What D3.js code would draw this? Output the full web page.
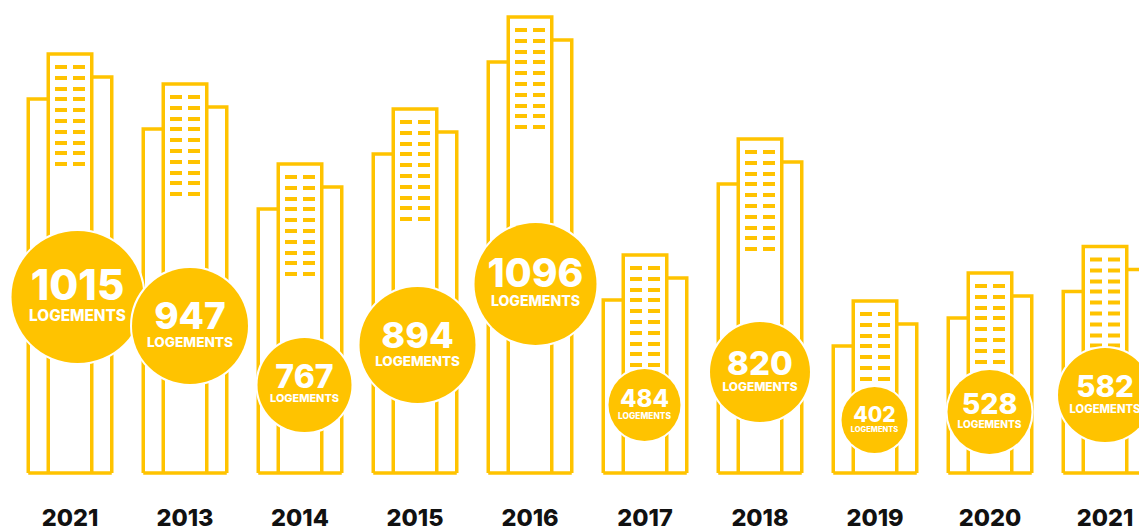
<!DOCTYPE html>
<html><head><meta charset="utf-8">
<script src="https://cdn.jsdelivr.net/npm/d3@7/dist/d3.min.js"></script>
<style>html,body{margin:0;padding:0;background:#fff;overflow:hidden}svg{display:block}</style>
</head><body><svg id="c" width="1139" height="528"></svg>
<script>
const years = ["2021","2013","2014","2015","2016","2017","2018","2019","2020","2021"];
const logements = [1015,947,767,894,1096,484,820,402,528,582];
const towerHeights = [419,389,309,364,456,218,334,172,200,226.5];
const windowRows = [10,10,10,10,10,10,10,7,8,9];
const bubbleRadius = [66,58,47,58,61,36,50,33,42,47];
const bubbleLift = [176,147,88,128,189,68,101,53,61,78];
const bubbleShift = [7.5,5,4.5,2.5,5.5,-0.5,0,-0.5,-0.5,0];
const numberSize = [42,37,32,36,39,24,33,21,28.5,29.5];
const captionSize = [15.3,13.6,10.9,13.4,14.1,8.4,11.9,7.5,10.1,11.2];
const rowOffsets = [0,11,22,32,43,54,65,76,86,97];

const W=1139,H=528,base=473,gold="#FFC300",font="Inter, 'Noto Sans', sans-serif";
const svg=d3.select("#c");
const x=d3.scaleBand().domain(d3.range(years.length)).range([12.5,1162.5]);
const y=d3.scaleLinear().domain([0,500]).range([base,base-500]);
const line=d3.line();
const towerW=43.5, sideW=20, stroke=3.5;
const g=svg.selectAll("g.b").data(d3.range(years.length)).join("g").attr("class","b")
  .attr("transform",i=>`translate(${x(i)+x.bandwidth()/2},0)`);
g.append("path").attr("fill","none").attr("stroke",gold).attr("stroke-width",stroke)
 .attr("d",i=>{
   const t=y(towerHeights[i]);
   const l=t+45, rr=t+23;
   const tw=towerW/2, o=tw+sideW;
   return line([[-o,base],[-o,l],[-tw,l]])+line([[-tw,base],[-tw,t],[tw,t],[tw,base]])+line([[tw,rr],[o,rr],[o,base]])+line([[-o,base],[o,base]]);
 });
g.each(function(i){
  const t=y(towerHeights[i]);
  const rows=rowOffsets.slice(0,windowRows[i]);
  [-15,3].forEach(dx=>{
    d3.select(this).selectAll(null).data(rows).join("rect")
      .attr("x",dx).attr("y",d=>t+11+d).attr("width",12).attr("height",4).attr("fill",gold);
  });
});
const b=svg.selectAll("g.n").data(d3.range(years.length)).join("g").attr("class","n")
  .attr("transform",i=>`translate(${x(i)+x.bandwidth()/2+bubbleShift[i]},${y(bubbleLift[i])})`);
b.append("circle").attr("r",i=>bubbleRadius[i]).attr("fill",gold).attr("stroke","#fff").attr("stroke-width",4).attr("paint-order","stroke");
b.append("text").attr("text-anchor","middle").attr("font-family",font).attr("font-weight",800).attr("fill","#fff")
 .attr("font-size",i=>numberSize[i]).attr("y",i=>numberSize[i]*0.08).text(i=>logements[i]);
b.append("text").attr("text-anchor","middle").attr("font-family",font).attr("font-weight",800).attr("fill","#fff")
 .attr("font-size",i=>captionSize[i]).attr("y",i=>captionSize[i]*1.5+1).text("LOGEMENTS");
svg.selectAll("text.y").data(d3.range(years.length)).join("text").attr("class","y")
 .attr("x",i=>x(i)+x.bandwidth()/2).attr("y",526).attr("text-anchor","middle")
 .attr("font-family",font).attr("font-weight",800).attr("font-size",23.5).attr("fill","#111").text(i=>years[i]);
</script></body></html>
